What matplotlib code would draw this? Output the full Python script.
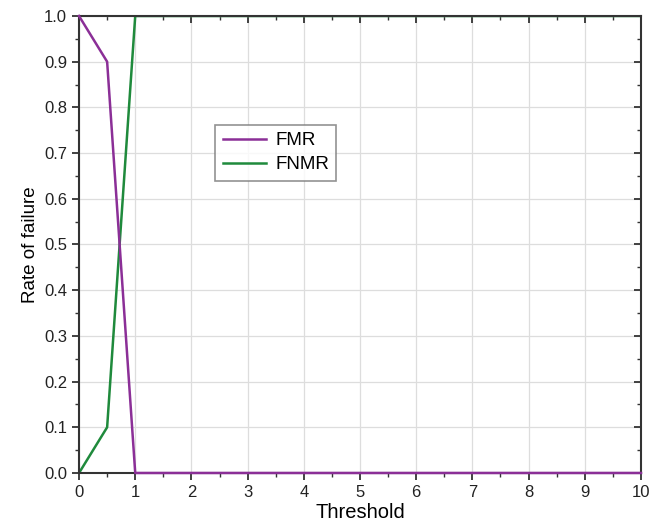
import matplotlib
matplotlib.use('Agg')
import matplotlib.pyplot as plt
from matplotlib.ticker import MultipleLocator, FuncFormatter

plt.rcParams['font.family'] = ['Liberation Sans', 'DejaVu Sans']

threshold = [0, 0.5, 1, 2, 3, 4, 5, 6, 7, 8, 9, 10]
fmr = [1.0, 0.9, 0.0, 0, 0, 0, 0, 0, 0, 0, 0, 0]
fnmr = [0.0, 0.1, 1.0, 1, 1, 1, 1, 1, 1, 1, 1, 1]

fig = plt.figure(figsize=(6.51, 5.28), dpi=100)
ax = fig.add_axes([0.1214, 0.1042, 0.8632, 0.8655])

ax.plot(threshold, fmr, color='#8b2f97', lw=1.8, label='FMR', zorder=5, clip_on=False)
ax.plot(threshold, fnmr, color='#1f8a3c', lw=1.8, label='FNMR', zorder=3)

ax.set_xlim(0, 10)
ax.set_ylim(0, 1)
ax.xaxis.set_major_locator(MultipleLocator(1))
ax.xaxis.set_minor_locator(MultipleLocator(0.5))
ax.yaxis.set_major_locator(MultipleLocator(0.1))
ax.yaxis.set_minor_locator(MultipleLocator(0.05))
ax.yaxis.set_major_formatter(FuncFormatter(lambda v, p: '%.1f' % v))

ax.grid(True, which='major', color='#dddddd', lw=0.9)
ax.set_axisbelow(True)

for s in ax.spines.values():
    s.set_linewidth(1.5)
    s.set_color('#333333')
    s.set_zorder(4)

ax.tick_params(which='major', direction='out', length=5, width=1.3, labelsize=12, colors='#333333')
ax.tick_params(which='minor', direction='out', length=3, width=1.0, colors='#333333')
ax.tick_params(which='both', top=True, right=True, labelcolor='#222222')
# ticks on top/right point inward
for tl in ax.xaxis.get_major_ticks() + ax.xaxis.get_minor_ticks():
    tl.tick2line.set_marker(3)
for tl in ax.yaxis.get_major_ticks() + ax.yaxis.get_minor_ticks():
    tl.tick2line.set_marker(0)

ax.set_xlabel('Threshold', fontsize=14.5, labelpad=2)
ax.set_ylabel('Rate of failure', fontsize=13.5, labelpad=4)

leg = ax.legend(loc='upper left', bbox_to_anchor=(0.242, 0.762), fontsize=13.5,
                frameon=True, fancybox=False, handlelength=2.3, handletextpad=0.5,
                borderpad=0.4, labelspacing=0.35, borderaxespad=0)
leg.get_frame().set_edgecolor('#777777')
leg.get_frame().set_linewidth(1.2)

fig.savefig('out.png', dpi=100)
